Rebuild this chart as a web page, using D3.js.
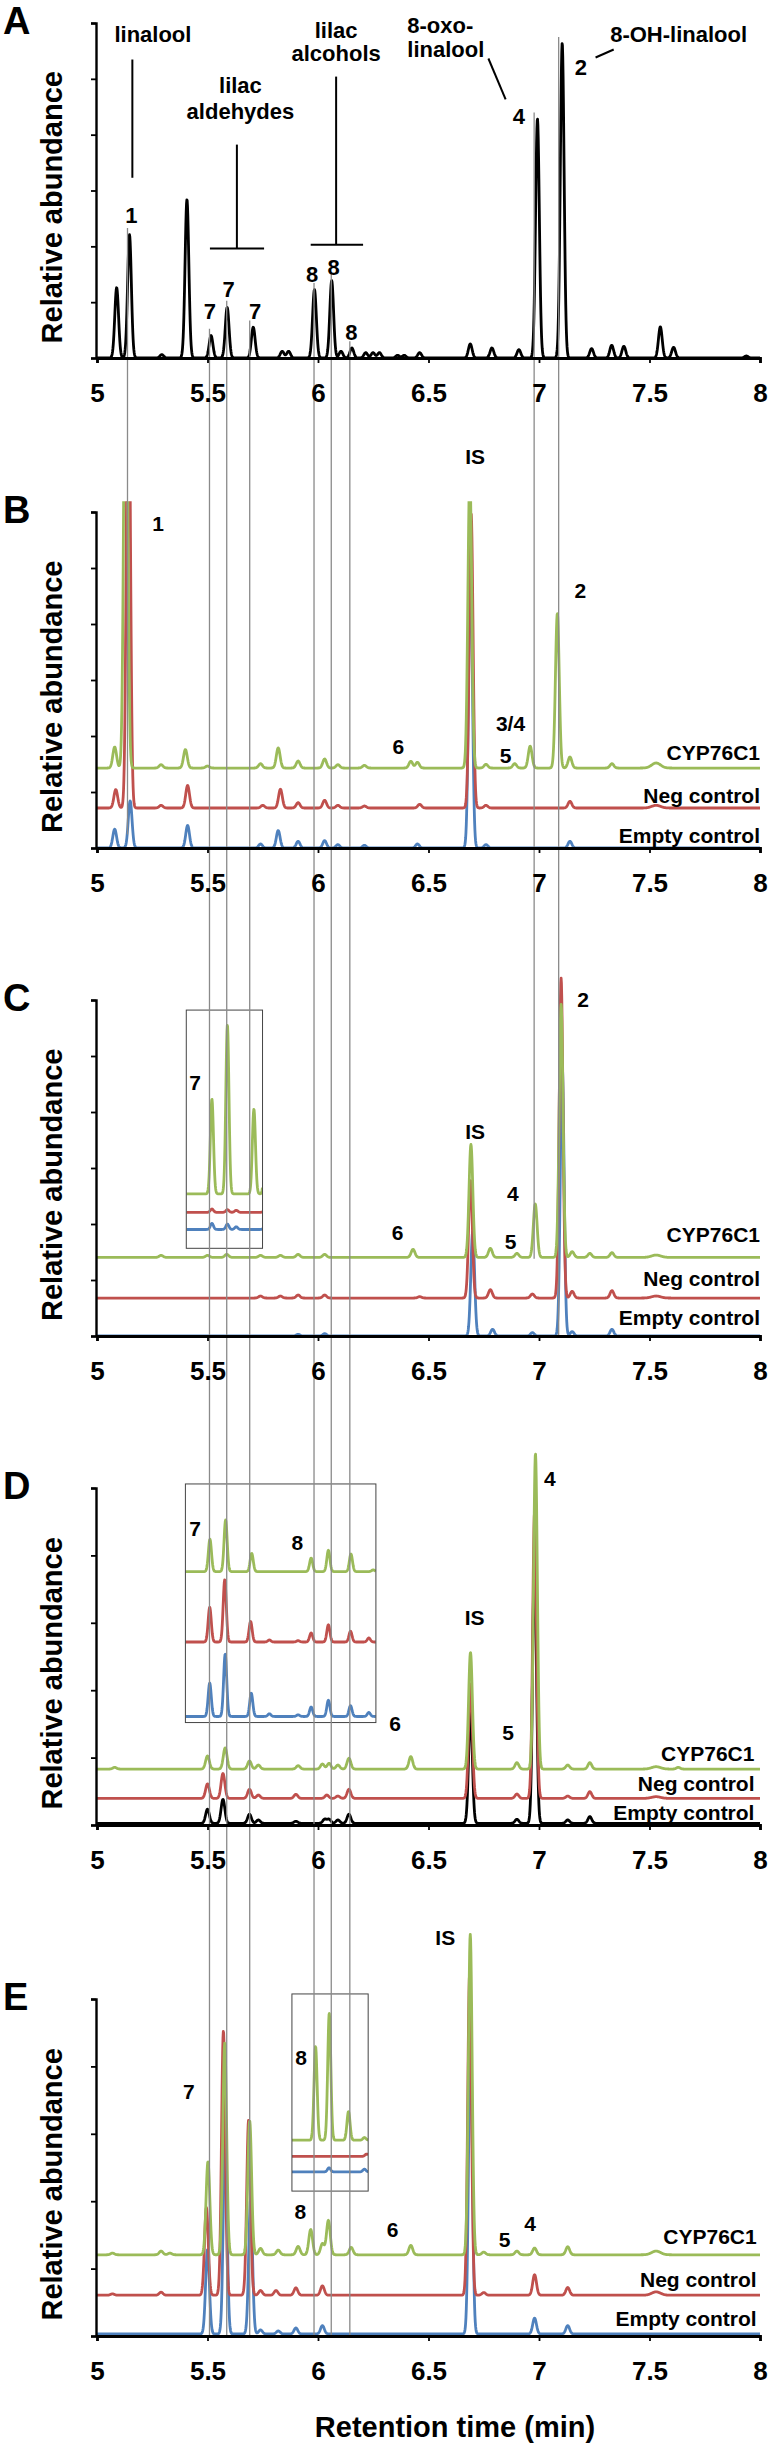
<!DOCTYPE html>
<html><head><meta charset="utf-8">
<script src="https://cdn.jsdelivr.net/npm/d3@7"></script>
<style>
body{margin:0;background:#fff;}
svg text{font-family:"Liberation Sans",Arial,Helvetica,sans-serif;font-weight:bold;fill:#000;}
</style></head><body>
<svg id="c" width="769" height="2443"></svg>
<script>
// ---------------- DATA ----------------
const rtTicks = [5, 5.5, 6, 6.5, 7, 7.5, 8];
const tickLabels = ["5", "5.5", "6", "6.5", "7", "7.5", "8"];
const seriesNames = ["CYP76C1", "Neg control", "Empty control"];

// peaks: [retention time (min), relative height, optional width]
const peaksA = [[5.089,0.21],[5.147,0.368],[5.293,0.01],[5.407,0.473],[5.516,0.067],[5.589,0.151],[5.707,0.092],[5.838,0.02],[5.867,0.02],[5.984,0.204],[6.062,0.231],[6.104,0.02],[6.153,0.03],[6.216,0.016],[6.249,0.016],[6.278,0.016],[6.36,0.008],[6.39,0.008],[6.46,0.016],[6.689,0.042],[6.787,0.03],[6.909,0.025],[6.993,0.714],[7.105,0.94],[7.238,0.028],[7.329,0.038],[7.384,0.035],[7.549,0.093],[7.609,0.032],[7.938,0.006]];

const peaksB_cyp = [[5.08,0.0625],[5.13,1.5],[5.29,0.01],[5.40,0.055],[5.50,0.006],[5.74,0.013],[5.82,0.06],[5.91,0.021],[6.03,0.027],[6.09,0.01],[6.21,0.008],[6.42,0.02],[6.45,0.017],[6.687,0.88],[6.76,0.011],[6.89,0.013],[6.96,0.065],[7.083,0.46],[7.14,0.033],[7.33,0.013],[7.53,0.015,0.02]];
const peaksB_neg = [[5.085,0.055],[5.142,1.5],[5.29,0.008],[5.41,0.067],[5.75,0.008],[5.83,0.056],[5.91,0.016],[6.03,0.023],[6.09,0.008],[6.21,0.006],[6.46,0.011],[6.693,0.876],[6.76,0.008],[7.14,0.02],[7.53,0.008,0.02]];
const peaksB_empty = [[5.08,0.056],[5.15,0.14],[5.41,0.067],[5.74,0.012],[5.82,0.052],[5.91,0.02],[6.03,0.022],[6.09,0.01],[6.21,0.008],[6.45,0.012],[6.69,0.85],[6.76,0.01],[7.14,0.02]];
const offsetsB = [0.238, 0.119, 0];

const peaksC_cyp = [[5.29,0.006],[5.50,0.006],[5.587,0.009],[5.74,0.006],[5.83,0.006],[5.91,0.009],[6.03,0.009],[6.43,0.024],[6.692,0.336],[6.78,0.027],[6.90,0.012],[6.983,0.159],[7.10,0.753],[7.15,0.017],[7.23,0.012],[7.33,0.014],[7.53,0.007,0.02]];
const peaksC_neg = [[5.74,0.006],[5.83,0.006],[5.91,0.009],[6.03,0.009],[6.46,0.004],[6.69,0.35],[6.78,0.025],[6.97,0.012],[7.10,0.952],[7.15,0.02],[7.33,0.022],[7.53,0.006,0.02]];
const peaksC_empty = [[5.91,0.005],[6.03,0.007],[6.70,0.31],[6.79,0.02],[6.97,0.01],[7.105,0.81],[7.15,0.013],[7.33,0.02]];
const offsetsC = [0.234, 0.113, 0];
// inset C (7 region, magnified)
const insetC_cyp = [[5.52,0.282],[5.59,0.503],[5.71,0.252],[5.765,0.3]];
const insetC_neg = [[5.52,0.01],[5.59,0.008],[5.63,0.006],[5.765,0.05]];
const insetC_empty = [[5.52,0.018],[5.59,0.016],[5.63,0.008],[5.765,0.05]];
const insetC_offsets = [0.423, 0.368, 0.317];

const peaksD_cyp = [[5.08,0.005],[5.50,0.039],[5.58,0.063],[5.69,0.024],[5.73,0.012],[5.91,0.01],[6.02,0.015],[6.05,0.017],[6.09,0.012],[6.14,0.032],[6.42,0.037],[6.69,0.346],[6.90,0.019],[6.984,0.936],[7.13,0.012],[7.23,0.019],[7.53,0.007,0.02],[7.63,0.005]];
const peaksD_neg = [[5.50,0.043],[5.57,0.074],[5.69,0.027],[5.73,0.01],[5.90,0.012],[6.04,0.01],[6.09,0.007],[6.14,0.027],[6.69,0.34],[6.90,0.013],[6.98,0.85],[7.13,0.007],[7.23,0.02],[7.53,0.005,0.02]];
const peaksD_empty = [[5.50,0.042],[5.57,0.071],[5.69,0.027],[5.73,0.01],[5.90,0.006],[6.03,0.012],[6.05,0.012],[6.09,0.01],[6.14,0.027],[6.69,0.33],[6.90,0.012],[6.98,0.8],[7.13,0.01],[7.23,0.02]];
const offsetsD = [0.166, 0.079, 0.005];
const insetD_cyp = [[5.511,0.096],[5.582,0.153],[5.70,0.054],[5.969,0.04],[6.047,0.063],[6.149,0.052],[6.25,0.005]];
const insetD_neg = [[5.51,0.103],[5.578,0.185],[5.695,0.061],[5.78,0.006],[5.91,0.004],[5.969,0.027],[6.047,0.051],[6.147,0.032],[6.23,0.012]];
const insetD_empty = [[5.51,0.099],[5.58,0.185],[5.698,0.069],[5.78,0.008],[5.91,0.005],[5.969,0.028],[6.047,0.048],[6.147,0.032],[6.23,0.012]];
const insetD_offsets = [0.752, 0.543, 0.322];

const peaksE_cyp = [[5.07,0.005],[5.29,0.011],[5.33,0.005],[5.502,0.276],[5.578,0.629],[5.691,0.397],[5.74,0.019],[5.82,0.014],[5.91,0.025],[5.967,0.075],[6.02,0.033],[6.047,0.102],[6.15,0.022],[6.42,0.028],[6.689,0.951],[6.75,0.008],[6.90,0.011],[6.98,0.02],[7.13,0.024],[7.53,0.011,0.02]];
const peaksE_neg = [[5.07,0.004],[5.29,0.009],[5.495,0.26],[5.572,0.784],[5.686,0.52],[5.74,0.014],[5.81,0.014],[5.90,0.022],[6.02,0.028],[6.686,0.953],[6.75,0.008],[6.98,0.061],[7.13,0.023],[7.53,0.01,0.02]];
const peaksE_empty = [[5.50,0.25],[5.58,0.6],[5.695,0.4],[5.74,0.012],[5.82,0.009],[5.90,0.018],[6.02,0.025],[6.69,0.9],[6.98,0.047],[7.13,0.025]];
const offsetsE = [0.241, 0.121, 0.006];
const insetE_cyp = [[5.989,0.278],[6.051,0.377],[6.138,0.085],[6.21,0.008]];
const insetE_neg = [[6.22,0.007]];
const insetE_empty = [[6.05,0.012],[6.21,0.008]];
const insetE_offsets = [0.581, 0.533, 0.487];

// retention times of the guide lines
const guideRT = [5.138, 5.509, 5.587, 5.691, 5.982, 6.06, 6.144, 6.978, 7.089];
const guideEnd = [["B",0.04],["E",0],["E",0],["E",0],["E",0],["E",0],["E",0],["C",0.23],["C",0]];

// ---------------- LAYOUT ----------------
const colors = {cyp:"#9bbb59", neg:"#c0504d", empty:"#4f81bd", black:"#000"};
const x = d3.scaleLinear().domain([5, 8]).range([97, 760]);
const panels = {
  A:{top:23, bottom:358, n:6},
  B:{top:512, bottom:848, n:6, clip:1.032},
  C:{top:1000, bottom:1336, n:6},
  D:{top:1488, bottom:1825, n:5},
  E:{top:1999, bottom:2336, n:5}
};
Object.values(panels).forEach(p => p.y = d3.scaleLinear().domain([0,1]).range([p.bottom, p.top]));

const svg = d3.select("#c");
const gTrace = svg.append("g"), gGuide = svg.append("g"), gAxis = svg.append("g"), gText = svg.append("g");
const defs = svg.append("defs");

const step = 0.0015;
const grid = d3.range(5, 8 + step/2, step);
function curve(peaks, offset, sd, lo=5, hi=8){
  return grid.filter(t => t >= lo - 1e-9 && t <= hi + 1e-9).map(t => [t, offset + d3.sum(peaks, pk => pk[1]*Math.exp(-0.5*Math.pow((t-pk[0])/(pk[2]||sd),2)))]);
}
function drawTrace(panel, peaks, offset, color, sd, clipId, lo, hi, w){
  const p = panels[panel];
  const line = d3.line().x(d => x(d[0])).y(d => p.y(d[1]));
  const path = gTrace.append("path").datum(curve(peaks, offset, sd, lo, hi))
    .attr("d", line).attr("fill","none").attr("stroke", color)
    .attr("stroke-width", w || 2.8).attr("stroke-linejoin","round");
  if (clipId) path.attr("clip-path", `url(#${clipId})`);
}

const SD = 0.0085;
// Panel A
drawTrace("A", peaksA, 0, colors.black, SD, null, 5, 8, 2.8);

// Panels B-E
const sets = {
  B:[peaksB_cyp, peaksB_neg, peaksB_empty, offsetsB, [colors.cyp, colors.neg, colors.empty]],
  C:[peaksC_cyp, peaksC_neg, peaksC_empty, offsetsC, [colors.cyp, colors.neg, colors.empty]],
  D:[peaksD_cyp, peaksD_neg, peaksD_empty, offsetsD, [colors.cyp, colors.neg, colors.black]],
  E:[peaksE_cyp, peaksE_neg, peaksE_empty, offsetsE, [colors.cyp, colors.neg, colors.empty]]
};
defs.append("clipPath").attr("id","clipB").append("rect")
  .attr("x",0).attr("width",769).attr("y",panels.B.y(panels.B.clip)).attr("height",panels.B.bottom - panels.B.y(panels.B.clip) + 20);
Object.entries(sets).forEach(([k, s]) => {
  const clip = k === "B" ? "clipB" : null;
  [2,1,0].forEach(i => drawTrace(k, s[i], s[3][i], s[4][i], SD, clip));
});

// insets
const insets = {
  C:{lo:5.404, hi:5.749, y0:0.261, y1:0.97, data:[insetC_cyp, insetC_neg, insetC_empty], off:insetC_offsets, cols:[colors.cyp, colors.neg, colors.empty]},
  D:{lo:5.40, hi:6.262, y0:0.304, y1:1.012, data:[insetD_cyp, insetD_neg, insetD_empty], off:insetD_offsets, cols:[colors.cyp, colors.neg, colors.empty]},
  E:{lo:5.882, hi:6.227, y0:0.43, y1:1.015, data:[insetE_cyp, insetE_neg, insetE_empty], off:insetE_offsets, cols:[colors.cyp, colors.neg, colors.empty]}
};
Object.entries(insets).forEach(([k, ins]) => {
  const p = panels[k];
  const bx = x(ins.lo), bw = x(ins.hi) - x(ins.lo), by = p.y(ins.y1), bh = p.y(ins.y0) - p.y(ins.y1);
  gTrace.append("rect").attr("x",bx).attr("y",by).attr("width",bw).attr("height",bh).attr("fill","#fff");
  const cid = "clipIns"+k;
  defs.append("clipPath").attr("id",cid).append("rect").attr("x",bx).attr("y",by).attr("width",bw).attr("height",bh);
  [2,1,0].forEach(i => drawTrace(k, ins.data[i], ins.off[i], ins.cols[i], 0.007, cid, ins.lo, ins.hi, 2.8));
  gGuide.append("rect").attr("x",bx).attr("y",by).attr("width",bw).attr("height",bh)
    .attr("fill","none").attr("stroke","#444").attr("stroke-width",1);
});

// guide lines
const aCurve = curve(peaksA, 0, SD);
guideRT.forEach((rt, i) => {
  const near = aCurve.filter(d => Math.abs(d[0]-rt) < 0.02);
  const topV = d3.max(near, d => d[1]) + 0.02;
  const [pk, v] = guideEnd[i];
  gGuide.append("line").attr("x1", x(rt)).attr("x2", x(rt))
    .attr("y1", panels.A.y(topV)).attr("y2", panels[pk].y(v))
    .attr("stroke","#8a8a8a").attr("stroke-width",1.3);
});

// axes
Object.entries(panels).forEach(([k, p]) => {
  const yAx = d3.axisLeft(p.y).tickValues(d3.range(0, p.n + 1).map(i => i / p.n)).tickSize(5).tickFormat("");
  const gy = gAxis.append("g").attr("transform", `translate(${x(5)-1},0)`).call(yAx);
  gy.select(".domain").attr("stroke","#000").attr("stroke-width",2.4);
  gy.selectAll(".tick line").attr("stroke","#000").attr("stroke-width",1.8);
  const xAx = d3.axisBottom(x).tickValues(rtTicks).tickFormat((d,i) => tickLabels[i]).tickSize(5).tickPadding(21);
  const gx = gAxis.append("g").attr("transform", `translate(0,${p.bottom})`).call(xAx);
  gx.select(".domain").attr("stroke","#000").attr("stroke-width",2.8);
  gx.selectAll(".tick line").attr("stroke","#000").attr("stroke-width",1.8);
  gx.selectAll("text").attr("font-size",26).style("font-family","'Liberation Sans',Arial,sans-serif").style("font-weight","bold");
  // panel letter
  gText.append("text").attr("x",3).attr("y",p.top - 3).attr("dy","0.36em").attr("font-size",38).text(k);
  // y title
  gText.append("text").attr("transform",`translate(62,${p.y(0.45)}) rotate(-90)`)
    .attr("text-anchor","middle").attr("font-size",29).text("Relative abundance");
});

// labels: [text, rt, y-fraction, anchor]
const labelsA = [["linalool",5.253,0.968,"middle"],["lilac",5.649,0.815,"middle"],["aldehydes",5.649,0.736,"middle"],["lilac",6.082,0.98,"middle"],["alcohols",6.082,0.909,"middle"],["8-oxo-",6.404,0.993,"start"],["linalool",6.404,0.921,"start"],["4",6.909,0.721,"middle"],["8-OH-linalool",7.322,0.968,"start"],["2",7.189,0.869,"middle"],["1",5.156,0.426,"middle"],["7",5.511,0.14,"middle"],["7",5.596,0.206,"middle"],["7",5.716,0.14,"middle"],["8",5.973,0.25,"middle"],["8",6.071,0.27,"middle"],["8",6.151,0.077,"middle"]];
const labelsB = [["1",5.276,0.965,"middle"],["IS",6.711,1.166,"middle"],["2",7.187,0.767,"middle"],["3/4",6.871,0.37,"middle"],["5",6.849,0.276,"middle"],["6",6.364,0.303,"middle"]];
const labelsC = [["7",5.444,0.754,"middle"],["IS",6.711,0.61,"middle"],["2",7.2,1.002,"middle"],["4",6.882,0.423,"middle"],["5",6.871,0.281,"middle"],["6",6.36,0.308,"middle"]];
const labelsD = [["7",5.444,0.881,"middle"],["8",5.907,0.837,"middle"],["6",6.349,0.3,"middle"],["IS",6.709,0.616,"middle"],["5",6.86,0.274,"middle"],["4",7.049,1.028,"middle"]];
const labelsE = [["IS",6.576,1.182,"middle"],["7",5.416,0.726,"middle"],["8",5.924,0.826,"middle"],["8",5.92,0.37,"middle"],["6",6.338,0.315,"middle"],["5",6.844,0.287,"middle"],["4",6.96,0.334,"middle"]];
const legendY = {B:[0.283,0.155,0.036], C:[0.301,0.172,0.055], D:[0.213,0.124,0.037], E:[0.296,0.169,0.051]};
const legendRT = {B:8.0, C:8.0, D:7.975, E:7.985};

function drawLabels(k, arr, size){
  const p = panels[k];
  arr.forEach(([t, rt, v, a]) => gText.append("text").attr("x", x(rt)).attr("y", p.y(v))
    .attr("dy","0.36em").attr("text-anchor", a).attr("font-size", size).text(t));
}
drawLabels("A", labelsA, 22);
drawLabels("B", labelsB, 21);
drawLabels("C", labelsC, 21);
drawLabels("D", labelsD, 21);
drawLabels("E", labelsE, 21);
Object.entries(legendY).forEach(([k, ys]) => {
  ys.forEach((v, i) => gText.append("text").attr("x", x(legendRT[k])).attr("y", panels[k].y(v))
    .attr("dy","0.36em").attr("text-anchor","end").attr("font-size",21).text(seriesNames[i]));
});

// annotation lines in panel A: [rt1, y1, rt2, y2]
const annA = [[5.16,0.891,5.16,0.538],[5.633,0.637,5.633,0.327],[5.511,0.327,5.756,0.327],[6.082,0.84,6.082,0.338],[5.967,0.338,6.204,0.338],[6.771,0.894,6.849,0.772],[7.256,0.897,7.338,0.921]];
annA.forEach(([a,b,c,d]) => gAxis.append("line").attr("x1",x(a)).attr("y1",panels.A.y(b)).attr("x2",x(c)).attr("y2",panels.A.y(d))
  .attr("stroke","#000").attr("stroke-width",2));

// x title
gText.append("text").attr("x", 455).attr("y", 2427).attr("dy","0.36em").attr("text-anchor","middle").attr("font-size",29).text("Retention time (min)");
</script>
</body></html>
